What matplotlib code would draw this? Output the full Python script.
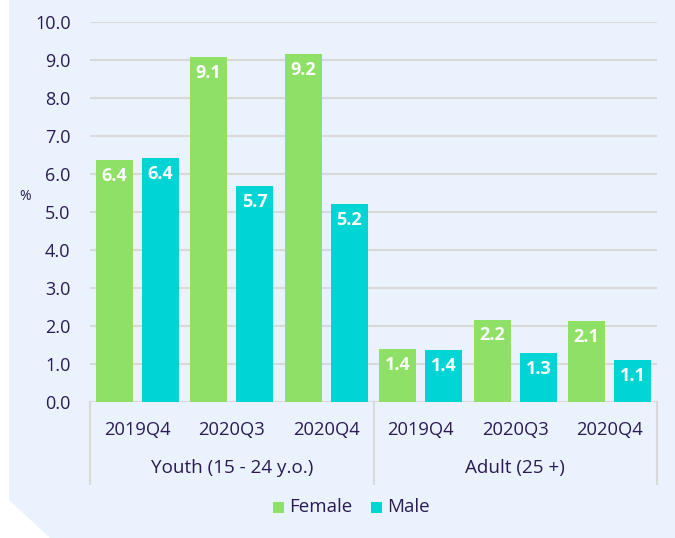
import matplotlib
matplotlib.use("Agg")
import matplotlib.pyplot as plt
import matplotlib.transforms as mtrans
from matplotlib.patches import Polygon, Rectangle
from matplotlib.lines import Line2D
import numpy as np

plt.rcParams['font.family'] = ['Open Sans', 'DejaVu Sans']

groups = ["Youth (15 - 24 y.o.)", "Adult (25 +)"]
quarters = ["2019Q4", "2020Q3", "2020Q4"]
female = [6.38, 9.07, 9.16, 1.40, 2.17, 2.12]
male = [6.41, 5.68, 5.21, 1.37, 1.30, 1.10]
yticks = [0, 1, 2, 3, 4, 5, 6, 7, 8, 9, 10]

W, H = 675, 538
fig = plt.figure(figsize=(W / 100, H / 100), dpi=100)
fig.patch.set_facecolor("white")

bg = "#EAF3FD"
txt = "#2B1A55"
green = "#8EE066"
cyan = "#00D4D4"
grid = "#D9D9D9"

def fx(px):
    return px / W

def fy(py):
    return 1 - py / H

poly = Polygon([(fx(9), fy(0)), (fx(675), fy(0)), (fx(675), fy(538)),
                (fx(50), fy(538)), (fx(9), fy(500))],
               closed=True, transform=fig.transFigure, facecolor=bg,
               edgecolor="none", zorder=-10)
fig.add_artist(poly)

ax_l, ax_r, ax_t, ax_b = 90, 657, 22, 402
ax = fig.add_axes([fx(ax_l), fy(ax_b), (ax_r - ax_l) / W, (ax_b - ax_t) / H])
ax.set_facecolor("none")
ax.set_zorder(1)

n = len(female)
x = np.arange(n)
bw = 0.39
off = 0.245
bf = ax.bar(x - off, female, bw, color=green, zorder=3)
bm = ax.bar(x + off, male, bw, color=cyan, zorder=3)

for bars, vals in ((bf, female), (bm, male)):
    for b, v in zip(bars, vals):
        ax.annotate(f"{v:.1f}", (b.get_x() + b.get_width() / 2, v),
                    xytext=(0, -5), textcoords="offset points",
                    ha="center", va="top", color="white",
                    fontsize=13, fontweight="bold", zorder=4)

ax.set_xlim(-0.5, n - 0.5)
ax.set_ylim(0, 10)
ax.set_yticks(yticks)
ax.set_yticklabels([f"{t:.1f}" for t in yticks], color=txt, fontsize=13)
ax.tick_params(axis="y", length=0, pad=14)
ax.set_xticks([])
for s in ax.spines.values():
    s.set_visible(False)
ax.grid(axis="y", color=grid, linewidth=1.6, zorder=1)
ax.set_axisbelow(True)

xt = ax.get_xaxis_transform()
for i in range(n):
    ax.text(i, 0, quarters[i % 3], ha="center", va="center", color=txt, fontsize=13.2,
            transform=xt + mtrans.ScaledTranslation(0, -28 / 100, fig.dpi_scale_trans),
            clip_on=False)

for g, name in enumerate(groups):
    cx = g * 3 + 1
    ax.text(cx, 0, name, ha="center", va="center", color=txt, fontsize=13.6,
            transform=xt + mtrans.ScaledTranslation(0, -66 / 100, fig.dpi_scale_trans),
            clip_on=False)

for px in (90, 373.5, 657):
    fig.add_artist(Line2D([fx(px), fx(px)], [fy(402), fy(484)],
                          transform=fig.transFigure, color=grid, linewidth=1.6))

fig.text(fx(25), fy(196), "%", color=txt, fontsize=10, ha="center", va="center")

legend_y = 507
fig.add_artist(Rectangle((fx(273), fy(legend_y + 6)), 11 / W, 11 / H,
                         transform=fig.transFigure, facecolor=green, edgecolor="none"))
fig.text(fx(289), fy(legend_y), "Female", color=txt, fontsize=13.5, ha="left", va="center")
fig.add_artist(Rectangle((fx(371), fy(legend_y + 6)), 11 / W, 11 / H,
                         transform=fig.transFigure, facecolor=cyan, edgecolor="none"))
fig.text(fx(387), fy(legend_y), "Male", color=txt, fontsize=13.5, ha="left", va="center")

fig.savefig("out.png", dpi=100, facecolor=fig.get_facecolor())
